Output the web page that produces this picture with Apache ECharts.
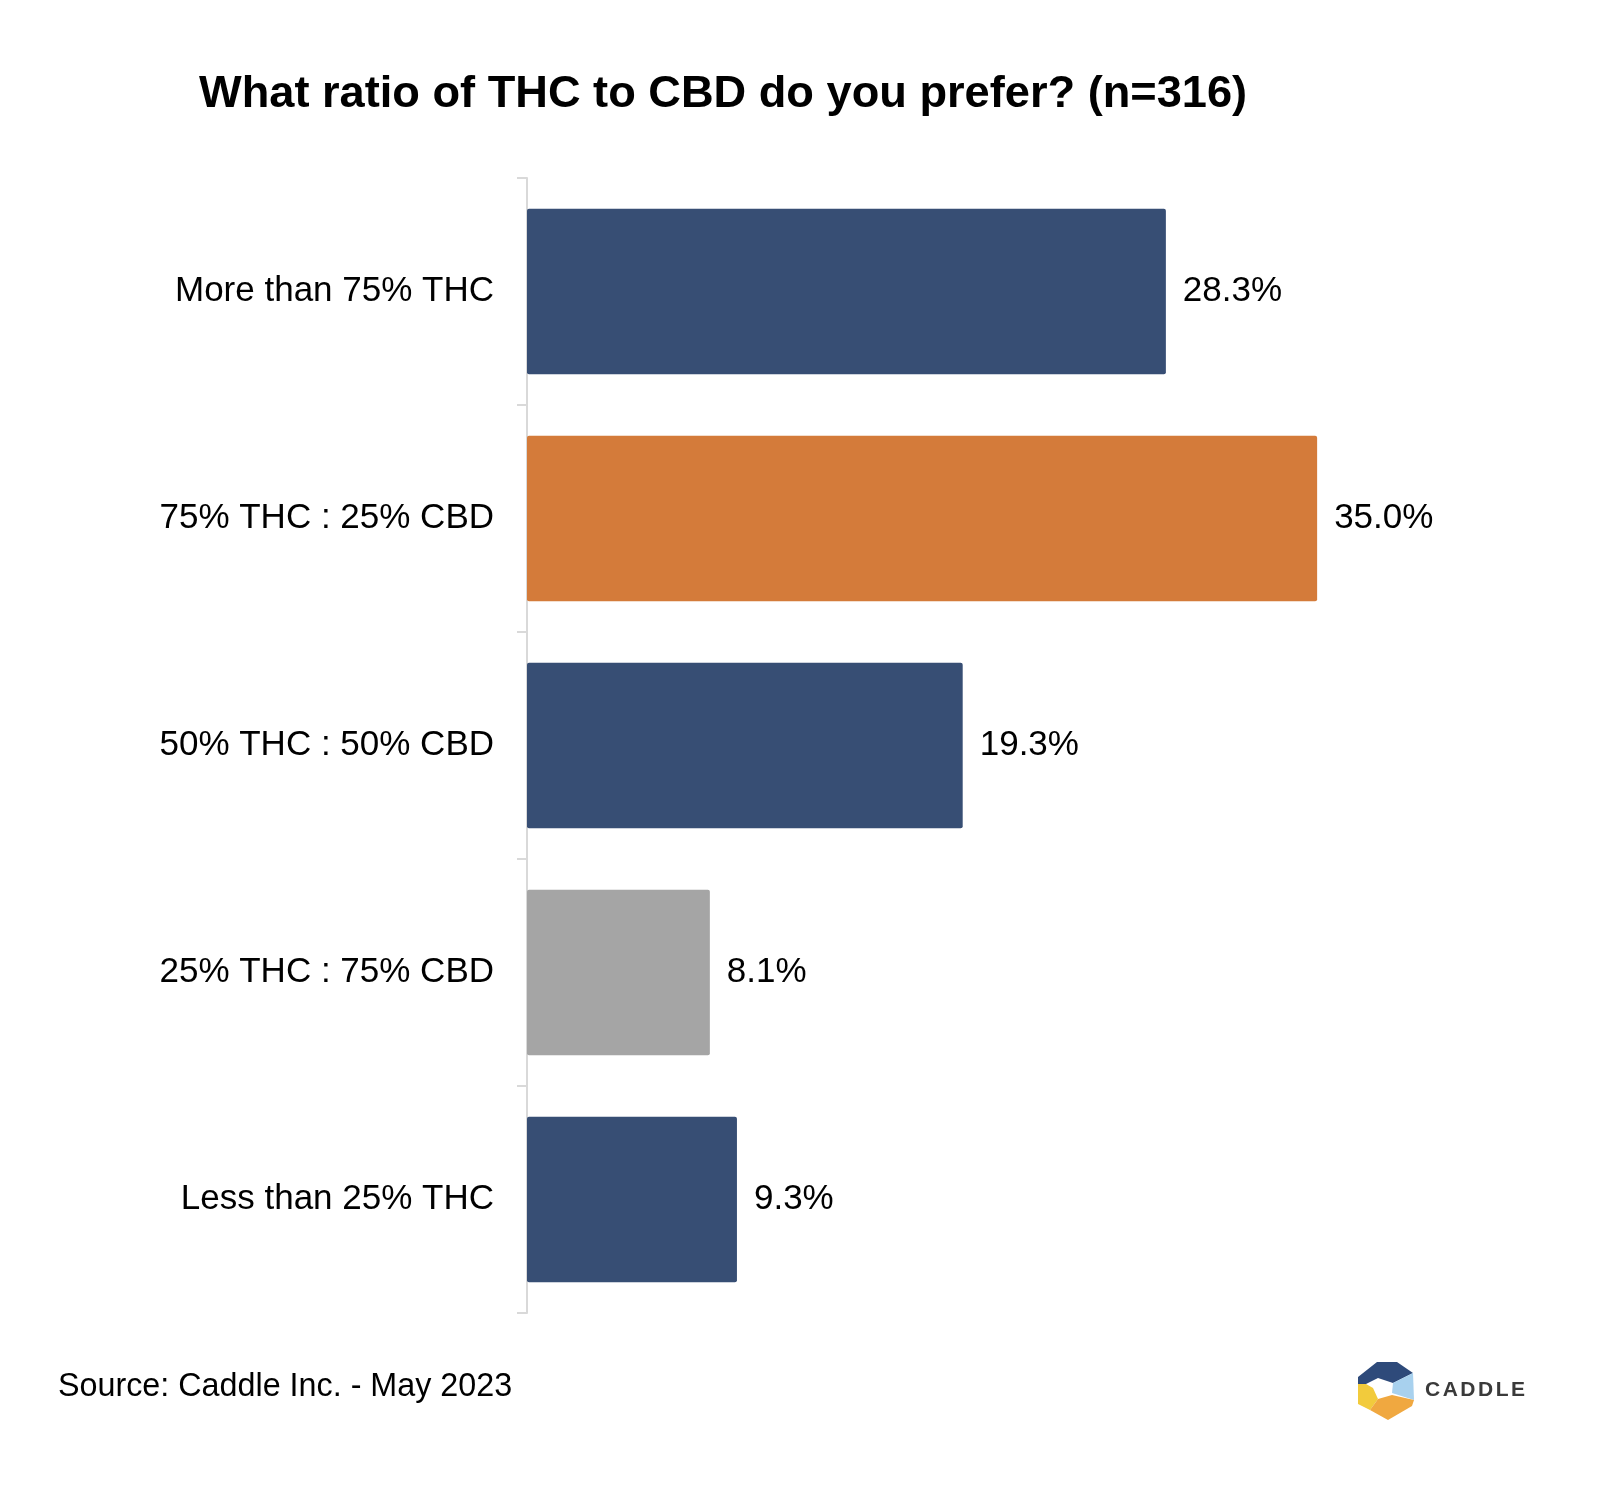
<!DOCTYPE html>
<html>
<head>
<meta charset="utf-8">
<script src="https://cdn.jsdelivr.net/npm/echarts@6/dist/echarts.min.js"></script>
<style>
html,body{margin:0;padding:0;background:#fff;}
#chart{width:1600px;height:1486px;}
</style>
</head>
<body>
<div id="chart"></div>
<script>
const categories = ['More than 75% THC', '75% THC : 25% CBD', '50% THC : 50% CBD', '25% THC : 75% CBD', 'Less than 25% THC'];
const values = [28.3, 35.0, 19.3, 8.1, 9.3];
const titleText = 'What ratio of THC to CBD do you prefer? (n=316)';
const sourceText = 'Source: Caddle Inc. - May 2023';
const brandText = 'CADDLE';

const barColors = ['#374E74', '#D47B3A', '#374E74', '#A5A5A5', '#374E74'];
const FONT = "'Liberation Sans', Arial, sans-serif";

const chart = echarts.init(document.getElementById('chart'));
chart.setOption({
  backgroundColor: '#fff',
  animation: false,
  title: {
    text: titleText,
    left: 199,
    top: 72,
    padding: 0,
    textStyle: { fontFamily: FONT, fontSize: 45.2, fontWeight: 'bold', color: '#000' }
  },
  grid: { left: 527, right: 170, top: 178, bottom: 173, containLabel: false },
  xAxis: { type: 'value', min: 0, max: 40, show: false },
  yAxis: {
    type: 'category',
    data: categories,
    inverse: true,
    axisLine: { show: true, lineStyle: { color: '#D9D9D9', width: 2 } },
    axisTick: { show: true, length: 10, lineStyle: { color: '#D9D9D9', width: 2 } },
    axisLabel: { fontFamily: FONT, fontSize: 35, color: '#000', margin: 33, padding: [4, 0, 0, 0] },
    splitLine: { show: false }
  },
  series: [{
    type: 'bar',
    data: values.map((v, i) => ({ value: v, itemStyle: { color: barColors[i] } })),
    barCategoryGap: '27%',
    itemStyle: { borderRadius: 2 },
    label: {
      show: true,
      position: 'right',
      distance: 17,
      fontFamily: FONT,
      fontSize: 35,
      color: '#000',
      padding: [4, 0, 0, 0],
      formatter: p => p.value.toFixed(1) + '%'
    }
  }],
  graphic: [
    {
      type: 'text', left: 58, top: 1371,
      style: { text: sourceText, fontFamily: FONT, fontSize: 32.3, fill: '#000' }
    },
    // logo
    { type: 'polygon', shape: { points: [[1358,1377],[1377,1362],[1397,1362],[1413,1373],[1393,1383],[1378,1378],[1366,1384],[1358,1384]] }, style: { fill: '#2E4A7A' } },
    { type: 'polygon', shape: { points: [[1413,1373],[1414,1400],[1392,1393],[1393,1383]] }, style: { fill: '#A8D1EE' } },
    { type: 'polygon', shape: { points: [[1358,1384],[1366,1384],[1373,1388],[1378,1399],[1370,1410],[1358,1404]] }, style: { fill: '#F2CB3C' } },
    { type: 'polygon', shape: { points: [[1378,1399],[1392,1395],[1414,1400],[1412,1406],[1388,1420],[1370,1410]] }, style: { fill: '#F0A840' } },
    {
      type: 'text', left: 1425, top: 1380,
      style: {
        text: brandText.split('').map(c => '{l|' + c + '}').join(''),
        rich: { l: { fontFamily: FONT, fontSize: 21, fontWeight: 'bold', fill: '#3A3A3A', color: '#3A3A3A', padding: [0, 2.5, 0, 0] } }
      }
    }
  ]
});
</script>
</body>
</html>
